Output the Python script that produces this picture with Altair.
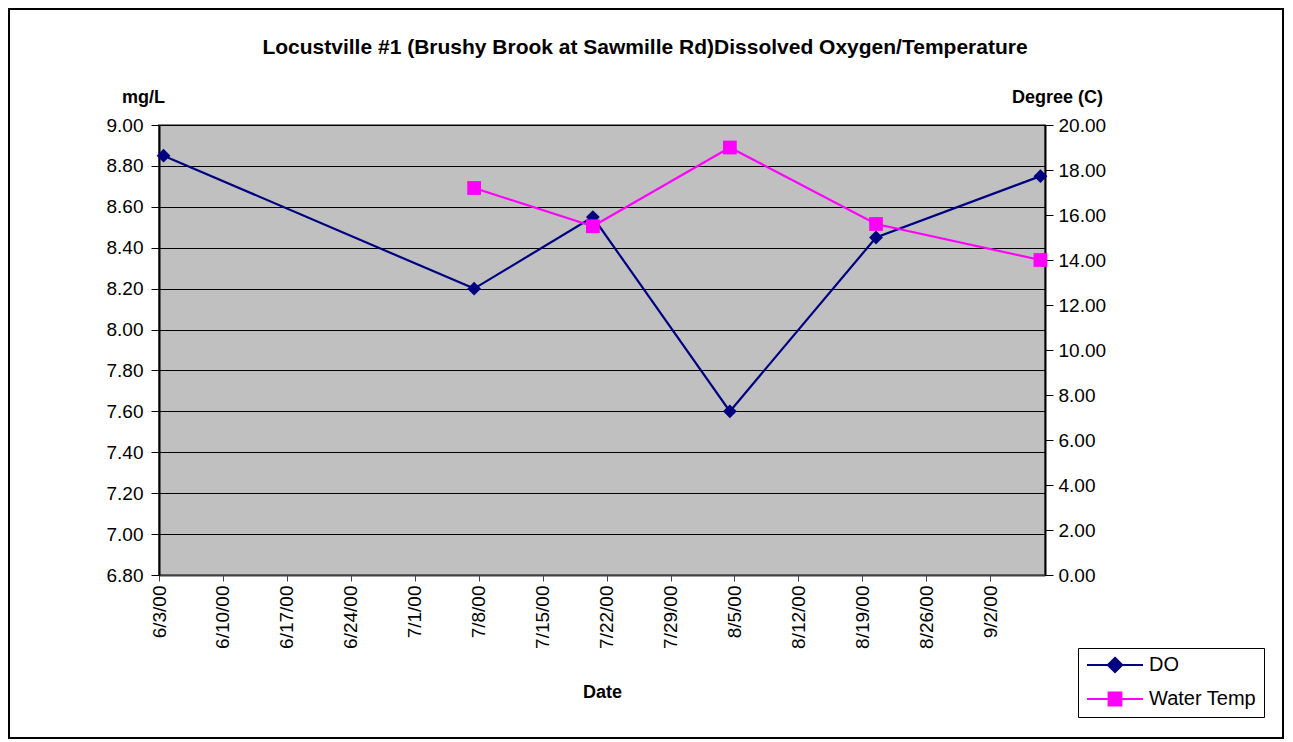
import altair as alt
import pandas as pd

# ---- data ----
do_dates = ["2000-06-03", "2000-07-07", "2000-07-20", "2000-08-04", "2000-08-20", "2000-09-07"]
do_values = [8.85, 8.20, 8.55, 7.60, 8.45, 8.75]
temp_dates = ["2000-07-07", "2000-07-20", "2000-08-04", "2000-08-20", "2000-09-07"]
temp_values = [17.2, 15.5, 19.0, 15.6, 14.0]
x_ticks = ["2000-06-03", "2000-06-10", "2000-06-17", "2000-06-24", "2000-07-01", "2000-07-08",
           "2000-07-15", "2000-07-22", "2000-07-29", "2000-08-05", "2000-08-12", "2000-08-19",
           "2000-08-26", "2000-09-02"]
left_ticks = [6.8, 7.0, 7.2, 7.4, 7.6, 7.8, 8.0, 8.2, 8.4, 8.6, 8.8, 9.0]
right_ticks = [0, 2, 4, 6, 8, 10, 12, 14, 16, 18, 20]
series = ["DO", "Water Temp"]
colors = ["#000080", "#FF00FF"]

FONT = "Liberation Sans"
W, H = 886, 450
LBL = 19

do_df = pd.DataFrame({"date": do_dates, "value": do_values})
temp_df = pd.DataFrame({"date": temp_dates, "value": temp_values})

x_scale = alt.Scale(type="utc",
                    domain=[alt.DateTime(year=2000, month=6, date=3, utc=True),
                            alt.DateTime(year=2000, month=9, date=8, utc=True)])
tick_ms = [int(pd.Timestamp(d, tz="UTC").value // 10**6) for d in x_ticks]
x_axis = alt.Axis(values=tick_ms, labelExpr="utcFormat(datum.value, '%-m/%-d/%y')",
                  labelAngle=270, labelFontSize=LBL, labelFont=FONT, labelColor="black",
                  labelPadding=4, tickSize=6, tickColor="#404040", domainColor="#404040",
                  domainWidth=2, grid=False, title="Date", titleFont=FONT, titleFontSize=18,
                  titleFontWeight="bold", titleX=W / 2, titleY=117, titleBaseline="middle",
                  titleColor="black")

x_enc = alt.X("t:T", scale=x_scale, axis=x_axis)

left_axis = alt.Axis(values=left_ticks, format=".2f", labelFontSize=LBL, labelFont=FONT,
                     labelColor="black", labelPadding=8, tickSize=8, tickColor="black",
                     domainColor="black", domainWidth=2, grid=True, gridColor="black",
                     gridWidth=1, title="mg/L", titleAngle=0, titleFont=FONT,
                     titleFontSize=18, titleFontWeight="bold", titleX=-16, titleY=-28,
                     titleAlign="center", titleBaseline="middle", titleColor="black")
right_axis = alt.Axis(values=right_ticks, format=".2f", labelFontSize=LBL, labelFont=FONT,
                      labelColor="black", labelPadding=5, tickSize=8, tickColor="black",
                      domainColor="black", domainWidth=2, grid=False, orient="right",
                      title="Degree (C)", titleAngle=0, titleFont=FONT, titleFontSize=18,
                      titleFontWeight="bold", titleX=12, titleY=-28, titleAlign="center",
                      titleBaseline="middle", titleColor="black")

y_left = alt.Y("value:Q", scale=alt.Scale(domain=[6.8, 9.0], nice=False, zero=False), axis=left_axis)
y_right = alt.Y("value:Q", scale=alt.Scale(domain=[0, 20], nice=False), axis=right_axis)

shift = "toDate(datum.date) + 43200000"

do_base = alt.Chart(do_df).transform_calculate(t=shift)
do_line = do_base.mark_line(color=colors[0], strokeWidth=2.2).encode(x=x_enc, y=y_left)
do_pts = do_base.mark_point(shape="diamond", filled=True, color=colors[0], size=190, opacity=1).encode(x=x_enc, y=y_left)

# legend-only layer (no rows drawn); symbol = line with marker, drawn from the left edge
legend_paths = ["M-1,0L6,0M2.5,-0.9L3.4,0L2.5,0.9L1.6,0Z",
                "M-1,0L6,0M1.7,-0.8L3.3,-0.8L3.3,0.8L1.7,0.8Z"]
leg_df = pd.DataFrame({"series": series, "value": [8.0, 8.0], "date": ["2000-06-03", "2000-06-03"]})
legend_layer = alt.Chart(leg_df).transform_calculate(t=shift).transform_filter("false").mark_point(
    filled=True, opacity=1, strokeWidth=2).encode(
    x=x_enc, y=y_left,
    color=alt.Color("series:N", scale=alt.Scale(domain=series, range=colors), legend=alt.Legend(title=None)),
    stroke=alt.Stroke("series:N", scale=alt.Scale(domain=series, range=colors), legend=alt.Legend(title=None)),
    shape=alt.Shape("series:N", scale=alt.Scale(domain=series, range=legend_paths), legend=alt.Legend(title=None)),
)

# outer chart border
border = alt.Chart(pd.DataFrame({"k": [0]})).mark_rect(filled=False, stroke="black", strokeWidth=2).encode(
    x=alt.value(-150), x2=alt.value(W + 238), y=alt.value(-116), y2=alt.value(H + 163))

do_layer = alt.layer(border, do_line, do_pts, legend_layer)

temp_base = alt.Chart(temp_df).transform_calculate(t=shift)
temp_line = temp_base.mark_line(color=colors[1], strokeWidth=2.2).encode(x=x_enc, y=y_right)
temp_pts = temp_base.mark_point(shape="square", filled=True, color=colors[1], size=190, opacity=1).encode(x=x_enc, y=y_right)
temp_layer = alt.layer(temp_line, temp_pts)

chart = alt.layer(do_layer, temp_layer).resolve_scale(y="independent").properties(
    width=W, height=H,
    background="white",
    autosize=alt.AutoSizeParams(type="none"),
    padding={"left": 151, "top": 117, "right": 240, "bottom": 165},
    title=alt.Title("Locustville #1 (Brushy Brook at Sawmille Rd)Dissolved Oxygen/Temperature",
                    font=FONT, fontSize=21, fontWeight="bold", color="black",
                    anchor="middle", dx=43, offset=-50),
).configure_view(fill="#C0C0C0", stroke="#808080", strokeWidth=2).configure_legend(
    orient="none", legendX=919, legendY=523, strokeColor="black", fillColor="white",
    padding=7, symbolSize=256, symbolStrokeWidth=2, labelFont=FONT, labelFontSize=20,
    labelColor="black", rowPadding=11, labelOffset=44, cornerRadius=0,
)

chart.save("out.html", embed_options={"renderer": "svg", "actions": False})
